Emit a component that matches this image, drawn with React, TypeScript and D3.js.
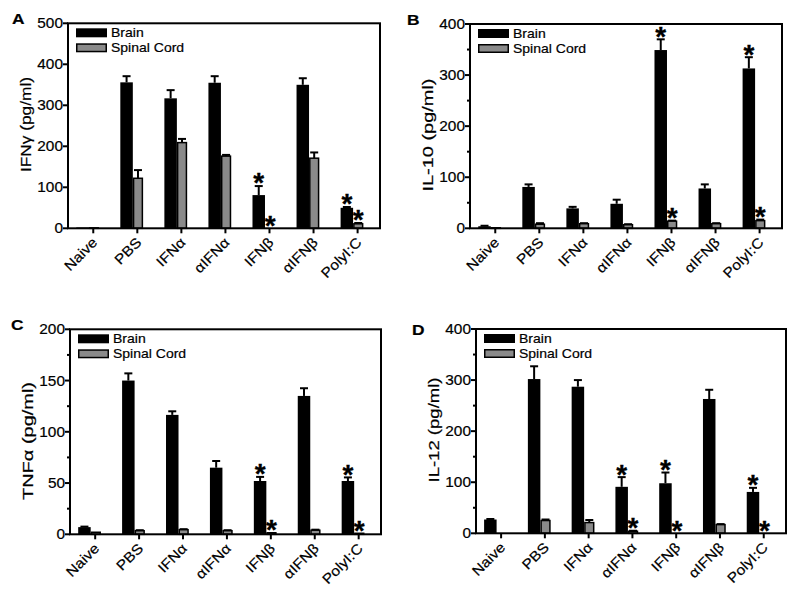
import React from 'react';
import * as d3 from 'd3';

const categories = ['Naive', 'PBS', 'IFNα', 'αIFNα', 'IFNβ', 'αIFNβ', 'PolyI:C'];
const seriesNames = ['Brain', 'Spinal Cord'];

// Panel A: IFNγ
const ifngBrain = [2, 356, 317, 355, 81, 350, 50];
const ifngBrainErr = [0, 15, 20, 16, 22, 16, 2];
const ifngSpinal = [1, 122, 209, 176, 0, 171, 11];
const ifngSpinalErr = [0, 20, 9, 3, 0, 14, 2];
const ifngBrainStars = ['IFNβ', 'PolyI:C'];
const ifngSpinalStars = ['IFNβ', 'PolyI:C'];

// Panel B: IL-10
const il10Brain = [4, 81, 39, 48, 349, 78, 313];
const il10BrainErr = [1, 5, 3, 8, 21, 8, 22];
const il10Spinal = [1, 8, 9, 7, 14, 9, 15];
const il10SpinalErr = [0, 2, 1, 1, 1, 1, 2];
const il10BrainStars = ['IFNβ', 'PolyI:C'];
const il10SpinalStars = ['IFNβ', 'PolyI:C'];

// Panel C: TNFα
const tnfBrain = [7, 150, 116.5, 65, 52, 135, 52];
const tnfBrainErr = [0.5, 7, 3.5, 6.5, 4, 7.5, 3.5];
const tnfSpinal = [2, 3.5, 4.5, 3.5, 1.5, 4, 1];
const tnfSpinalErr = [0, 0.5, 0.5, 0.5, 0, 0.5, 0];
const tnfBrainStars = ['IFNβ', 'PolyI:C'];
const tnfSpinalStars = ['IFNβ', 'PolyI:C'];

// Panel D: IL-12
const il12Brain = [27, 302, 287, 91, 98, 263, 81];
const il12BrainErr = [1, 25, 13, 19, 21, 18, 8];
const il12Spinal = [0, 25, 21, 4, 0, 17, 0];
const il12SpinalErr = [0, 2, 5, 1, 0, 1, 0];
const il12BrainStars = ['αIFNα', 'IFNβ', 'PolyI:C'];
const il12SpinalStars = ['αIFNα', 'IFNβ', 'PolyI:C'];

const FONT = "'Liberation Sans', Arial, Helvetica, sans-serif";

function T({ x, y, rot = 0, sx = 1, size, anchor = 'start', weight = 'normal', baseline = 'auto', len, heavy = 0.2, children }: any) {
  return (
    <text
      transform={`translate(${x},${y}) rotate(${rot}) scale(${sx},1)`}
      fontSize={size}
      textAnchor={anchor}
      fontWeight={weight}
      dominantBaseline={baseline}
      fontFamily={FONT}
      fill="#000"
      stroke="#000"
      strokeWidth={heavy}
      textLength={len}
      lengthAdjust={len ? 'spacingAndGlyphs' : undefined}
    >
      {children}
    </text>
  );
}

function Panel({ letter, letterPos, yLabel, yLabelLen, yLabelCenter, yMax, majorStep, minorStep, box, brain, brainErr, spinal, spinalErr, brainStars, spinalStars }: any) {
  const [l, r, t, b] = box;
  const y = d3.scaleLinear().domain([0, yMax]).range([b, t]);
  const x = d3.scalePoint<string>().domain(categories).range([l, r]).padding(0.541).align(0.53);
  const majors = d3.range(0, yMax + 0.001, majorStep);
  const minors = minorStep ? d3.range(0, yMax + 0.001, minorStep).filter((v) => Math.abs(v / majorStep - Math.round(v / majorStep)) > 1e-6) : [];
  const gray = '#8a8a8a';
  const starSize = 28;
  const starOffset = 9;
  return (
    <g>
      {categories.map((c, i) => {
        const tc = x(c) as number;
        const bx0 = tc - 17, bw = 12.5;
        const sx0 = tc - 4.5, sw = 10.3;
        const bTop = y(brain[i]);
        const sTop = y(spinal[i]);
        const bErrTop = y(brain[i] + brainErr[i]);
        const sErrTop = y(spinal[i] + spinalErr[i]);
        const bc = bx0 + bw / 2;
        const sc = sx0 + sw / 2;
        return (
          <g key={c}>
            {brainErr[i] > 0 && (
              <g stroke="#000" strokeWidth={2}>
                <line x1={bc} x2={bc} y1={bTop} y2={bErrTop} />
                <line x1={bc - 4} x2={bc + 4} y1={bErrTop} y2={bErrTop} />
              </g>
            )}
            {spinalErr[i] > 0 && (
              <g stroke="#000" strokeWidth={2}>
                <line x1={sc} x2={sc} y1={sTop} y2={sErrTop} />
                <line x1={sc - 4} x2={sc + 4} y1={sErrTop} y2={sErrTop} />
              </g>
            )}
            <rect x={bx0} y={bTop} width={bw} height={b - bTop} fill="#000" />
            {spinal[i] > 0 && (
              <rect x={sx0 + 0.75} y={sTop} width={sw - 1.5} height={b - sTop} fill={gray} stroke="#000" strokeWidth={1.5} />
            )}
            {brainStars.includes(c) && (
              <T x={bc} y={bErrTop - starOffset + starSize * 0.55} size={starSize} anchor="middle" weight="bold" heavy={0.3}>*</T>
            )}
            {spinalStars.includes(c) && (
              <T x={sc} y={sErrTop - starOffset + starSize * 0.55} size={starSize} anchor="middle" weight="bold" heavy={0.3}>*</T>
            )}
          </g>
        );
      })}
      <rect x={l} y={t} width={r - l} height={b - t} fill="none" stroke="#000" strokeWidth={2} />
      {majors.map((v) => (
        <g key={'M' + v}>
          <line x1={l - 5} x2={l} y1={y(v)} y2={y(v)} stroke="#000" strokeWidth={2} />
          <T x={l - 5} y={y(v) + 5} size={14} sx={1.1} anchor="end">{d3.format('d')(v)}</T>
        </g>
      ))}
      {minors.map((v) => (
        <line key={'m' + v} x1={l - 3} x2={l} y1={y(v)} y2={y(v)} stroke="#000" strokeWidth={2} />
      ))}
      {categories.map((c) => {
        const tc = x(c) as number;
        return (
          <g key={'x' + c}>
            <line x1={tc} x2={tc} y1={b} y2={b + 5} stroke="#000" strokeWidth={2} />
            <T x={tc + 5} y={b + 15} rot={-45} sx={1.12} size={14} anchor="end">{c}</T>
          </g>
        );
      })}
      <T x={l - 37} y={yLabelCenter} rot={-90} size={15} anchor="middle" len={yLabelLen}>{yLabel}</T>
      <rect x={l + 8} y={t + 5} width={31} height={9} fill="#000" />
      <rect x={l + 8.75} y={t + 20.75} width={29.5} height={7.5} fill={gray} stroke="#000" strokeWidth={1.5} />
      <T x={l + 43} y={t + 14} size={12.5} sx={1.12}>{seriesNames[0]}</T>
      <T x={l + 43} y={t + 29} size={12.5} sx={1.12}>{seriesNames[1]}</T>
      <T x={letterPos[0]} y={letterPos[1]} size={15.5} sx={1.12} weight="bold">{letter}</T>
    </g>
  );
}

export default function App() {
  return (
    <svg width={800} height={606} style={{ position: 'absolute', left: 0, top: 0, background: '#fff' }}>
      <rect x={0} y={0} width={800} height={606} fill="#fff" />
      <Panel letter="A" letterPos={[12, 24]} yLabel="IFNγ (pg/ml)" yLabelLen={95} yLabelCenter={124.5} yMax={500} majorStep={100} minorStep={0}
        box={[68, 380, 23.3, 228.3]} brain={ifngBrain} brainErr={ifngBrainErr} spinal={ifngSpinal} spinalErr={ifngSpinalErr}
        brainStars={ifngBrainStars} spinalStars={ifngSpinalStars} />
      <Panel letter="B" letterPos={[407, 25]} yLabel="IL-10 (pg/ml)" yLabelLen={113} yLabelCenter={135} yMax={400} majorStep={100} minorStep={50}
        box={[470, 782, 24, 228.3]} brain={il10Brain} brainErr={il10BrainErr} spinal={il10Spinal} spinalErr={il10SpinalErr}
        brainStars={il10BrainStars} spinalStars={il10SpinalStars} />
      <Panel letter="C" letterPos={[11, 330]} yLabel="TNFα (pg/ml)" yLabelLen={118} yLabelCenter={441} yMax={200} majorStep={50} minorStep={25}
        box={[70, 381, 329.3, 534.3]} brain={tnfBrain} brainErr={tnfBrainErr} spinal={tnfSpinal} spinalErr={tnfSpinalErr}
        brainStars={tnfBrainStars} spinalStars={tnfSpinalStars} />
      <Panel letter="D" letterPos={[412, 335]} yLabel="IL-12 (pg/ml)" yLabelLen={105} yLabelCenter={430} yMax={400} majorStep={100} minorStep={50}
        box={[476, 786, 329, 533.3]} brain={il12Brain} brainErr={il12BrainErr} spinal={il12Spinal} spinalErr={il12SpinalErr}
        brainStars={il12BrainStars} spinalStars={il12SpinalStars} />
    </svg>
  );
}
